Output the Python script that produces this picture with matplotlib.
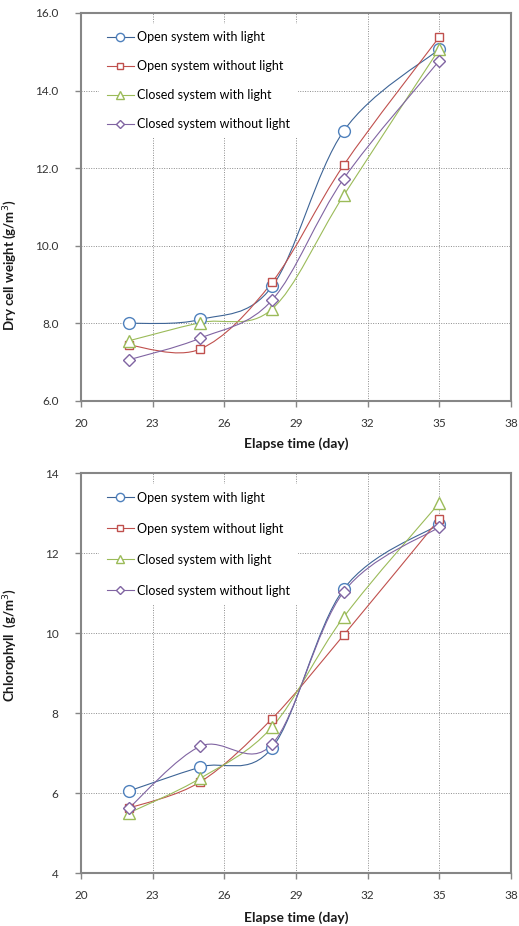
import numpy as np
import matplotlib
matplotlib.use('Agg')
import matplotlib.pyplot as plt
from matplotlib.path import Path
from matplotlib.patches import PathPatch
from matplotlib.lines import Line2D

plt.rcParams['font.family'] = ['Lato', 'DejaVu Sans']

# 数据
days = [22, 25, 28, 31, 35]
names = ['Open system with light', 'Open system without light',
         'Closed system with light', 'Closed system without light']

dcw_open_light = [8.0, 8.1, 8.95, 12.96, 15.07]
dcw_open_dark = [7.44, 7.34, 9.06, 12.08, 15.38]
dcw_closed_light = [7.55, 8.02, 8.37, 11.3, 15.07]
dcw_closed_dark = [7.06, 7.62, 8.6, 11.73, 14.77]

chl_open_light = [6.05, 6.65, 7.13, 11.1, 12.72]
chl_open_dark = [5.62, 6.28, 7.86, 9.95, 12.85]
chl_closed_light = [5.5, 6.37, 7.65, 10.4, 13.25]
chl_closed_dark = [5.62, 7.17, 7.22, 11.03, 12.65]

x_ticks = [20, 23, 26, 29, 32, 35, 38]
dcw_ticks = [6.0, 8.0, 10.0, 12.0, 14.0, 16.0]
chl_ticks = [4, 6, 8, 10, 12, 14]

line_colors = ['#3D6496', '#C0504D', '#9BBB59', '#8064A2']
mark_colors = ['#4F81BD', '#C0504D', '#9BBB59', '#8064A2']
markers = ['o', 's', '^', 'D']
msizes = [8.5, 5.5, 8, 6]


def smooth_path(x, y):
    # Excel 风格平滑线：三次贝塞尔
    p = np.column_stack([x, y]).astype(float)
    n = len(p)
    verts = [p[0]]
    codes = [Path.MOVETO]
    for i in range(n - 1):
        p0 = p[i - 1] if i > 0 else p[i]
        p3 = p[i + 2] if i + 2 < n else p[i + 1]
        c1 = p[i] + (p[i + 1] - p0) / 6
        c2 = p[i + 1] - (p3 - p[i]) / 6
        verts += [c1, c2, p[i + 1]]
        codes += [Path.CURVE4] * 3
    return Path(verts, codes)


def draw(ax, series, ylim, yticks, yfmt, ylabel, ylab_y, leg_box, leg_space):
    ax.set_xlim(20, 38)
    ax.set_ylim(*ylim)
    ax.set_xticks(x_ticks)
    ax.set_yticks(yticks)
    ax.set_yticklabels([yfmt.format(v) for v in yticks])
    ax.grid(True, color='#8c8c8c', linestyle=(0, (1, 1.5)), linewidth=0.7)
    ax.set_axisbelow(True)
    for s in ax.spines.values():
        s.set_color('#868686')
        s.set_linewidth(1.5)
    ax.tick_params(direction='out', length=4, width=1, color='#868686',
                   labelsize=8.5, labelcolor='#333333')
    ax.tick_params(axis='y', pad=12)
    ax.tick_params(axis='x', pad=8)

    for vals, lc, mc, m, ms in zip(series, line_colors, mark_colors, markers, msizes):
        ax.add_patch(PathPatch(smooth_path(days, vals), facecolor='none',
                               edgecolor=lc, lw=0.8, zorder=3))
        ax.plot(days, vals, linestyle='none', marker=m, ms=ms, mfc='white',
                mec=mc, mew=1, zorder=4)

    handles = [Line2D([], [], color=lc, lw=0.8, marker=m, ms=ms * 0.7,
                      mfc='white', mec=mc, mew=1)
               for lc, mc, m, ms in zip(line_colors, mark_colors, markers, msizes)]
    leg = ax.legend(handles, names, loc='upper left', bbox_to_anchor=leg_box,
                    frameon=True, fancybox=False, framealpha=1,
                    edgecolor='none', facecolor='white', fontsize=9,
                    handlelength=2.2, handletextpad=0.25,
                    labelspacing=leg_space, borderaxespad=0, borderpad=0.6)
    leg.set_zorder(2.5)

    ax.set_xlabel('Elapse time (day)', fontsize=10, fontweight='bold',
                  color='#1a1a1a')
    ax.xaxis.set_label_coords(0.5, -0.095)
    ax.set_ylabel(ylabel, fontsize=9.5, fontweight='bold', color='#1a1a1a')
    ax.yaxis.set_label_coords(-0.145, ylab_y)


fig = plt.figure(figsize=(5.19, 9.26), dpi=100)

ax1 = fig.add_axes([0.156, 0.567, 0.8285, 0.419])
draw(ax1, [dcw_open_light, dcw_open_dark, dcw_closed_light, dcw_closed_dark],
     (6, 16), dcw_ticks, '{:.1f}', 'Dry cell weight (g/m$^3$)', 0.35,
     (0.042, 0.972), 1.36)

ax2 = fig.add_axes([0.156, 0.0572, 0.8285, 0.432])
draw(ax2, [chl_open_light, chl_open_dark, chl_closed_light, chl_closed_dark],
     (4, 14), chl_ticks, '{:d}', 'Chlorophyll  (g/m$^3$)', 0.57,
     (0.042, 0.972), 1.52)

fig.savefig('out.png', dpi=100)
